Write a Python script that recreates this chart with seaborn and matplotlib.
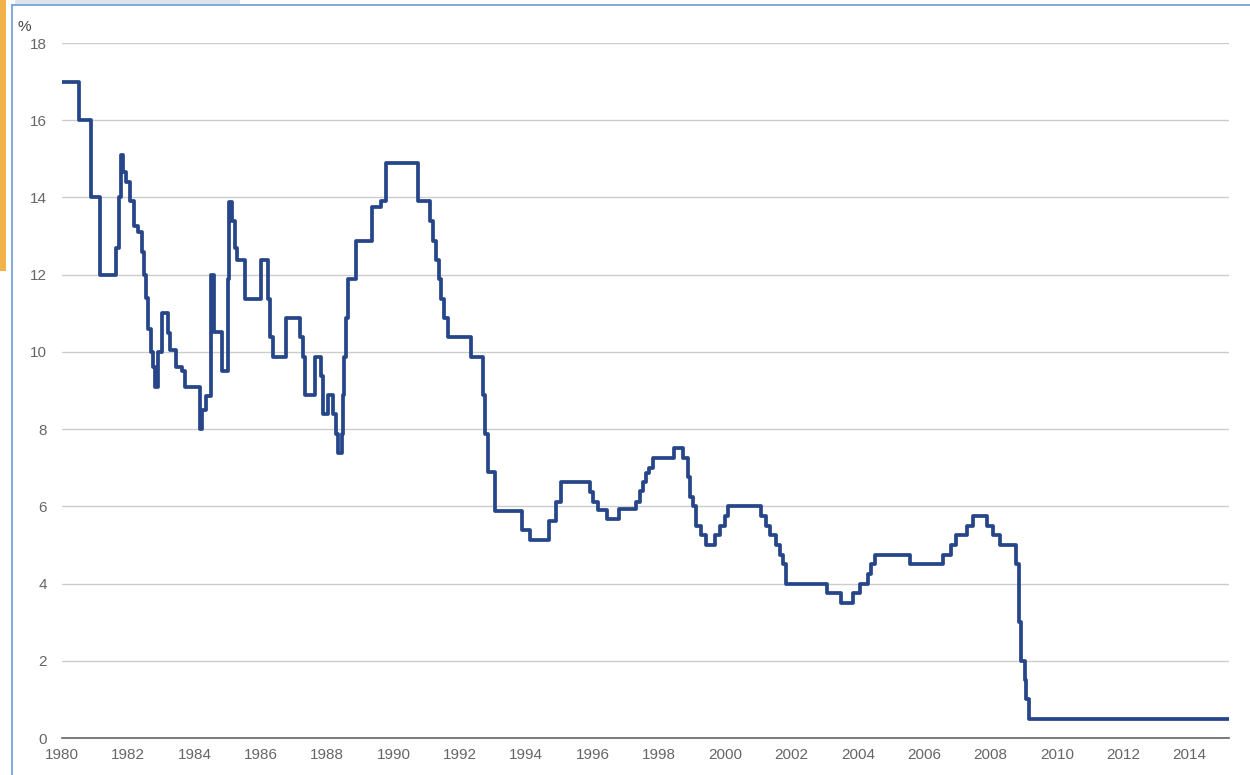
import matplotlib
matplotlib.use("Agg")
import matplotlib.pyplot as plt
from matplotlib.patches import Rectangle
from matplotlib.lines import Line2D
import seaborn as sns
import pandas as pd

# Step points: year where a rate starts, rate in %
change_years = [
    1980.00, 1980.50, 1980.88, 1981.16, 1981.64, 1981.71, 1981.77, 1981.84,
    1981.94, 1982.04, 1982.17, 1982.29, 1982.41, 1982.47, 1982.53, 1982.59,
    1982.69, 1982.74, 1982.79, 1982.89, 1983.01, 1983.19, 1983.27, 1983.43,
    1983.62, 1983.70, 1984.17, 1984.23, 1984.33, 1984.50, 1984.57, 1984.83,
    1985.02, 1985.04, 1985.14, 1985.22, 1985.27, 1985.52, 1986.01, 1986.21,
    1986.26, 1986.36, 1986.76, 1987.17, 1987.27, 1987.32, 1987.62, 1987.82,
    1987.87, 1988.02, 1988.17, 1988.26, 1988.32, 1988.44, 1988.47, 1988.51,
    1988.55, 1988.62, 1988.87, 1989.36, 1989.63, 1989.76, 1990.73, 1991.09,
    1991.18, 1991.27, 1991.36, 1991.43, 1991.51, 1991.64, 1992.34, 1992.69,
    1992.76, 1992.84, 1993.05, 1993.88, 1994.10, 1994.68, 1994.90, 1995.06,
    1995.93, 1996.02, 1996.16, 1996.43, 1996.79, 1997.32, 1997.42, 1997.52,
    1997.60, 1997.70, 1997.82, 1998.44, 1998.72, 1998.87, 1998.94, 1999.02,
    1999.12, 1999.27, 1999.43, 1999.68, 1999.83, 1999.98, 2000.08, 2001.09,
    2001.24, 2001.34, 2001.54, 2001.64, 2001.74, 2001.82, 2003.07, 2003.50,
    2003.85, 2004.07, 2004.30, 2004.40, 2004.50, 2005.56, 2006.56, 2006.82,
    2006.97, 2007.28, 2007.48, 2007.89, 2008.07, 2008.27, 2008.76, 2008.86,
    2008.93, 2009.03, 2009.08, 2009.17, 2015.18,
]
rates = [
    17.0, 16.0, 14.0, 12.0, 12.7, 14.0, 15.1, 14.65,
    14.4, 13.9, 13.25, 13.1, 12.6, 12.0, 11.4, 10.6,
    10.0, 9.6, 9.1, 10.0, 11.0, 10.5, 10.05, 9.6,
    9.5, 9.08, 8.0, 8.5, 8.85, 12.0, 10.52, 9.5,
    11.9, 13.88, 13.38, 12.7, 12.38, 11.38, 12.38, 11.38,
    10.38, 9.88, 10.88, 10.38, 9.88, 8.88, 9.88, 9.38,
    8.38, 8.88, 8.38, 7.88, 7.38, 7.88, 8.88, 9.88,
    10.88, 11.88, 12.88, 13.76, 13.9, 14.88, 13.9, 13.38,
    12.88, 12.38, 11.88, 11.38, 10.88, 10.38, 9.88, 8.88,
    7.88, 6.88, 5.88, 5.38, 5.13, 5.62, 6.12, 6.62,
    6.38, 6.12, 5.9, 5.66, 5.93, 6.12, 6.4, 6.62,
    6.87, 7.0, 7.25, 7.5, 7.25, 6.75, 6.25, 6.0,
    5.5, 5.25, 5.0, 5.25, 5.5, 5.75, 6.0, 5.75,
    5.5, 5.25, 5.0, 4.75, 4.5, 4.0, 3.75, 3.5,
    3.75, 4.0, 4.25, 4.5, 4.75, 4.5, 4.75, 5.0,
    5.25, 5.5, 5.75, 5.5, 5.25, 5.0, 4.5, 3.0,
    2.0, 1.5, 1.0, 0.5, 0.5,
]

year_ticks = list(range(1980, 2015, 2))
rate_ticks = list(range(0, 19, 2))

df = pd.DataFrame({"year": change_years, "rate": rates})

sns.set_style("white")
plt.rcParams["font.family"] = ["Liberation Sans", "DejaVu Sans"]

fig = plt.figure(figsize=(12.5, 7.75), dpi=100)
ax = fig.add_axes([0.0496, 0.0477, 0.9334, 0.8968])

sns.lineplot(data=df, x="year", y="rate", ax=ax, drawstyle="steps-post",
             estimator=None, color="#27468a", linewidth=2.7)

ax.set_xlim(1980, 2015.18)
ax.set_ylim(0, 18)
ax.set_xticks(year_ticks)
ax.set_xticks([2015.18], minor=True)
ax.set_yticks(rate_ticks)
ax.set_xlabel("")
ax.set_ylabel("")

ax.grid(axis="y", color="#cccccc", linewidth=1)
ax.grid(axis="x", visible=False)
ax.set_axisbelow(True)
for side in ["top", "right", "left"]:
    ax.spines[side].set_visible(False)
ax.spines["bottom"].set_color("#666666")
ax.spines["bottom"].set_linewidth(1.2)

ax.tick_params(axis="x", which="both", direction="out", length=5, width=1,
               color="#666666", labelsize=11, labelcolor="#666666", pad=2.5)
ax.tick_params(axis="y", length=0, labelsize=11, labelcolor="#666666", pad=11)

fig.text(0.014, 0.965, "%", fontsize=11, color="#444444", ha="left", va="center")

# screenshot frame bits
fig.add_artist(Line2D([0.0096, 0.0096], [0, 0.994], transform=fig.transFigure,
                      color="#6b9bd8", linewidth=1.2))
fig.add_artist(Line2D([0.0096, 1.0], [0.994, 0.994], transform=fig.transFigure,
                      color="#6b9bd8", linewidth=1.2))
fig.add_artist(Rectangle((0, 0.65), 0.005, 0.35, transform=fig.transFigure,
                         color="#f2b24a", linewidth=0))
fig.add_artist(Rectangle((0.012, 0.995), 0.18, 0.005, transform=fig.transFigure,
                         color="#dfe4ea", linewidth=0))

plt.savefig("out.png", dpi=100)
